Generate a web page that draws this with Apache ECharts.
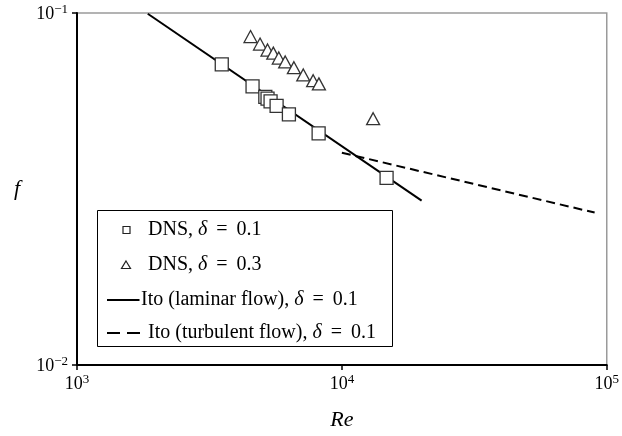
<!DOCTYPE html>
<html>
<head>
<meta charset="utf-8">
<script src="https://cdn.jsdelivr.net/npm/echarts@6/dist/echarts.min.js"></script>
<style>
  html, body { margin: 0; padding: 0; background: #fff; }
  #chart { width: 622px; height: 436px; }
</style>
</head>
<body>
<div id="chart"></div>
<script>
// Friction factor f versus Reynolds number Re (log-log)
const seriesNames = [
  'DNS, δ = 0.1',
  'DNS, δ = 0.3',
  'Ito (laminar flow), δ = 0.1',
  'Ito (turbulent flow), δ = 0.1'
];

// DNS results, δ = 0.1
const reDns01 = [3520, 4600, 5140, 5240, 5380, 5670, 6310, 8170, 14750];
const fDns01  = [0.0715, 0.0619, 0.0578, 0.0571, 0.0561, 0.0545, 0.0515, 0.0455, 0.0340];

// DNS results, δ = 0.3
const reDns03 = [4520, 4910, 5240, 5510, 5780, 6110, 6590, 7150, 7790, 8190, 13120];
const fDns03  = [0.0857, 0.0816, 0.0785, 0.0769, 0.0745, 0.0726, 0.0699, 0.0667, 0.0642, 0.0629, 0.0501];

// Ito correlations (straight lines on log-log axes)
const reLaminar = [1850, 20000];
const fLaminar  = [0.0995, 0.0293];
const reTurbulent = [10000, 90000];
const fTurbulent  = [0.0401, 0.0271];

const zip = (xs, ys) => xs.map((x, i) => [x, ys[i]]);

const serif = '"Liberation Serif", "DejaVu Serif", serif';
const supLabel = (v) => {
  const e = Math.round(Math.log10(v));
  return '{b|10}{s|' + String(e).replace('-', '\u2212') + '}';
};
const labelRich = {
  b: { fontFamily: serif, fontSize: 18, color: '#000', lineHeight: 20, verticalAlign: 'bottom' },
  s: { fontFamily: serif, fontSize: 13, color: '#000', lineHeight: 20, verticalAlign: 'top' }
};

// Legend drawn as a framed box with hand-placed keys;
// delta is set in italics and "=" gets math-style spacing
const legendFont = 20;
const legendText = (name) => name.replace('δ', '{i|δ}').replace(' = ', '{eq|=}');
const legendRich = {
  i: { fontFamily: serif, fontStyle: 'italic', fontSize: legendFont, fill: '#000' },
  eq: { fontFamily: serif, fontSize: legendFont, fill: '#000', padding: [0, 9, 0, 9] }
};
const legendRowY = [230, 265, 300, 333];
const legendLabel = (idx, x) => ({
  type: 'text',
  style: {
    text: legendText(seriesNames[idx]), x: x, y: legendRowY[idx],
    fontFamily: serif, fontSize: legendFont, fill: '#000',
    verticalAlign: 'middle', align: 'left', rich: legendRich
  }
});

const chart = echarts.init(document.getElementById('chart'), null, { renderer: 'canvas' });

chart.setOption({
  backgroundColor: '#fff',
  animation: false,
  grid: {
    left: 77, right: 15, top: 13, bottom: 61,
    show: true, borderColor: '#9a9a9a', borderWidth: 1.5, backgroundColor: 'transparent'
  },
  xAxis: {
    type: 'log', logBase: 10, min: 1000, max: 100000,
    name: 'Re', nameLocation: 'middle', nameGap: 44,
    nameTextStyle: { fontFamily: serif, fontStyle: 'italic', fontSize: 22, color: '#000' },
    axisLine: { show: true, lineStyle: { color: '#000', width: 2 } },
    axisTick: { show: true, inside: false, length: 5, lineStyle: { color: '#000', width: 1.5 } },
    minorTick: { show: false },
    splitLine: { show: false },
    axisLabel: { margin: 8, formatter: supLabel, rich: labelRich }
  },
  yAxis: {
    type: 'log', logBase: 10, min: 0.01, max: 0.1,
    name: 'f', nameLocation: 'middle', nameGap: 57, nameRotate: 0,
    nameTextStyle: { fontFamily: serif, fontStyle: 'italic', fontSize: 22, color: '#000' },
    axisLine: { show: true, lineStyle: { color: '#000', width: 2 } },
    axisTick: { show: true, inside: false, length: 5, lineStyle: { color: '#000', width: 1.5 } },
    minorTick: { show: false },
    splitLine: { show: false },
    axisLabel: { margin: 9, formatter: supLabel, rich: labelRich }
  },
  graphic: [
    {
      type: 'group', z: 100,
      children: [
        { type: 'rect', shape: { x: 97.5, y: 210.5, width: 295, height: 136 },
          style: { fill: '#fff', stroke: '#000', lineWidth: 1 } },
        // square key
        { type: 'rect', shape: { x: 123, y: 226.5, width: 7, height: 7 },
          style: { fill: '#fff', stroke: '#222', lineWidth: 1.2 } },
        // triangle key
        { type: 'polygon', shape: { points: [[126, 261], [130.5, 268.5], [121.5, 268.5]] },
          style: { fill: '#fff', stroke: '#222', lineWidth: 1.2 } },
        // solid line key
        { type: 'line', shape: { x1: 107, y1: 300, x2: 139.5, y2: 300 },
          style: { stroke: '#000', lineWidth: 2 } },
        // dashed line key
        { type: 'line', shape: { x1: 107, y1: 333, x2: 140, y2: 333 },
          style: { stroke: '#000', lineWidth: 2, lineDash: [13, 7] } },
        legendLabel(0, 148),
        legendLabel(1, 148),
        legendLabel(2, 141),
        legendLabel(3, 148)
      ]
    }
  ],
  series: [
    {
      name: seriesNames[0], type: 'scatter', z: 4,
      symbol: 'rect', symbolSize: 13,
      itemStyle: { color: '#fff', borderColor: '#333', borderWidth: 1.3, opacity: 1 },
      data: zip(reDns01, fDns01)
    },
    {
      name: seriesNames[1], type: 'scatter', z: 4,
      symbol: 'triangle', symbolSize: [13, 12],
      itemStyle: { color: '#fff', borderColor: '#333', borderWidth: 1.3, opacity: 1 },
      data: zip(reDns03, fDns03)
    },
    {
      name: seriesNames[2], type: 'line', z: 2,
      symbol: 'none', color: '#000',
      lineStyle: { color: '#000', width: 2 },
      data: zip(reLaminar, fLaminar)
    },
    {
      name: seriesNames[3], type: 'line', z: 2,
      symbol: 'none', color: '#000',
      lineStyle: { color: '#000', width: 2, type: [9, 5] },
      data: zip(reTurbulent, fTurbulent)
    }
  ]
});
</script>
</body>
</html>
